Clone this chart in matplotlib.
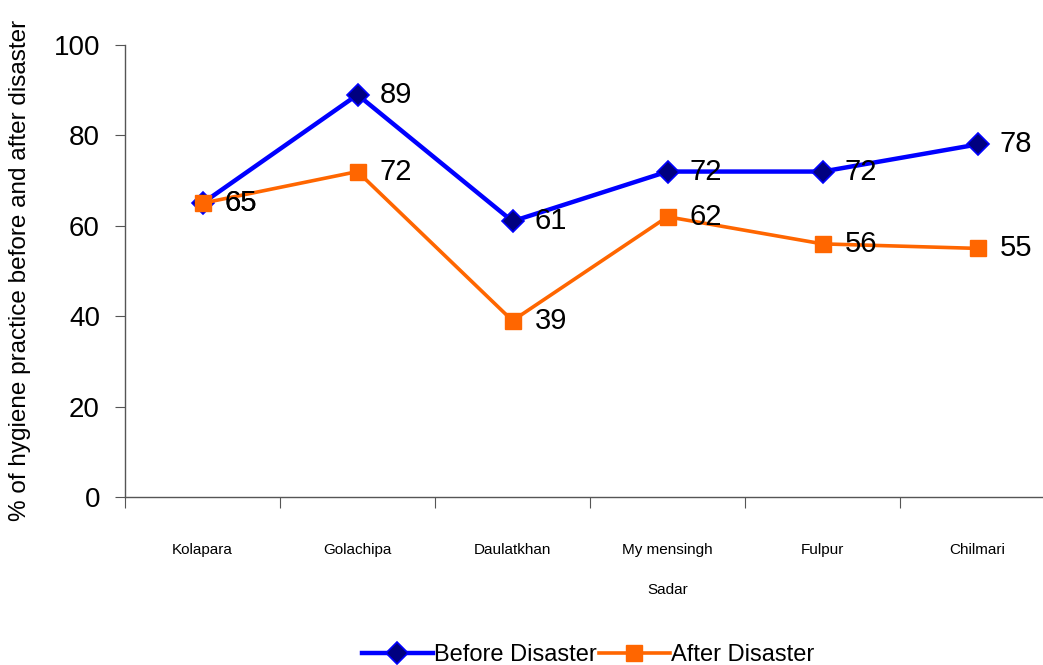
import matplotlib
matplotlib.use("Agg")
import matplotlib.pyplot as plt
import numpy as np

plt.rcParams['font.family'] = ['Liberation Sans', 'DejaVu Sans']

categories = ["Kolapara", "Golachipa", "Daulatkhan", "My mensingh\nSadar", "Fulpur", "Chilmari"]
before = [65, 89, 61, 72, 72, 78]
after = [65, 72, 39, 62, 56, 55]
yticks = [0, 20, 40, 60, 80, 100]

W, H = 1043, 665
fig = plt.figure(figsize=(W / 100, H / 100), dpi=100)
ax = fig.add_axes([125 / W, (H - 497) / H, (1055 - 125) / W, (497 - 45) / H])
ax.set_clip_on(False)

x = np.arange(len(categories)) + 0.5
l1, = ax.plot(x, before, color='#0000FF', lw=3.2, marker='D', markersize=11,
              markerfacecolor='#000080', markeredgecolor='#0000FF', markeredgewidth=1.2,
              label='Before Disaster', zorder=3)
l2, = ax.plot(x, after, color='#FF6600', lw=2.6, marker='s', markersize=12,
              markerfacecolor='#FF6600', markeredgecolor='#FF6600',
              label='After Disaster', zorder=3)

for xi, v in zip(x, before):
    ax.annotate(str(v), (xi, v), xytext=(16, 0), textcoords='offset points',
                ha='left', va='center', fontsize=21, color='black', zorder=4)
for xi, v in zip(x, after):
    ax.annotate(str(v), (xi, v), xytext=(16, 0), textcoords='offset points',
                ha='left', va='center', fontsize=21, color='black', zorder=4)

ax.set_xlim(0, 6)
ax.set_ylim(0, 100)
ax.set_yticks(yticks)
ax.set_yticklabels([str(t) for t in yticks], fontsize=20)
ax.tick_params(axis='y', direction='out', length=7, width=0.8, color='#555555', pad=11)

ax.set_xticks(np.arange(0, 7))
ax.set_xticklabels([])
ax.tick_params(axis='x', which='major', direction='out', length=8, width=0.8, color='#555555')
ax.set_xticks(x, minor=True)
ax.set_xticklabels(categories, minor=True, fontsize=11, linespacing=3.4, va='top')
ax.tick_params(axis='x', which='minor', length=0, pad=33)

for s in ['top', 'right']:
    ax.spines[s].set_visible(False)
for s in ['left', 'bottom']:
    ax.spines[s].set_color('#555555')
    ax.spines[s].set_linewidth(1.0)

fig.text(20 / W, 1 - 270 / H, '% of hygiene practice before and after disaster',
         rotation=90, ha='center', va='center', fontsize=17.5)

fig.legend(handles=[l1, l2], loc='center', bbox_to_anchor=(588 / W, 1 - 655 / H),
           ncol=2, frameon=False, fontsize=17, handlelength=3.0,
           handletextpad=0.05, columnspacing=0.1, borderaxespad=0, borderpad=0)

fig.savefig('out.png', dpi=100)
